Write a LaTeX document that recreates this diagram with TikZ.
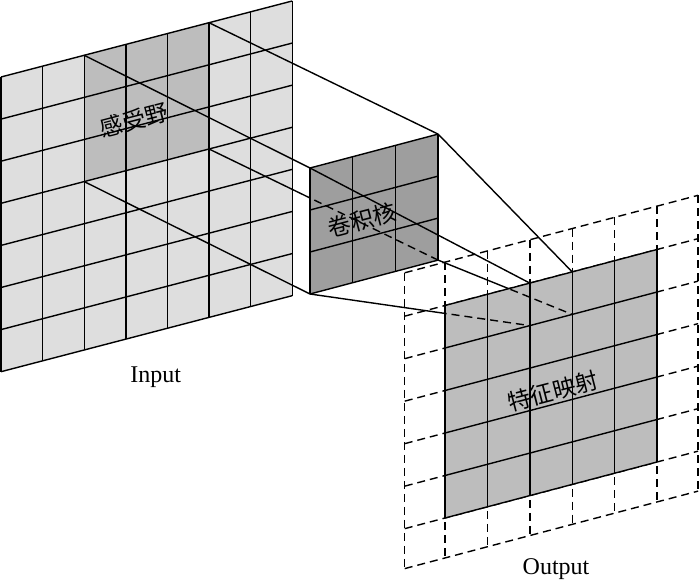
\documentclass[tikz,border=0pt]{standalone}
\usepackage{fontspec}
\setmainfont{Liberation Serif}
\newfontfamily\cjk{Noto Sans CJK SC}
\usepackage{tikz}

\colorlet{inputgray}{black!13}
\colorlet{fieldgray}{black!26}
\colorlet{kernelgray}{black!38}
\colorlet{featgray}{black!26}

\tikzset{
  gridline/.style={line width=1.4pt},
  hidden/.style={line width=1.4pt, dash pattern=on 8pt off 5pt},
  cjklabel/.style={font=\cjk\fontsize{23}{27}\selectfont, rotate=14.6},
  layerlabel/.style={font=\fontsize{24}{28}\selectfont, anchor=base},
}

\begin{document}
\begin{tikzpicture}[x=1pt, y=-1pt, line join=round]
    \useasboundingbox (0,0) rectangle (700,583);
    % Input layer with receptive field
    \begin{scope}[shift={(1,77)}, x={(41.6pt,10.86pt)}, y={(0pt,-42.1pt)}]
        \fill[inputgray] (0,0) -- (7,0) -- (7,7) -- (0,7) -- cycle;
        \fill[fieldgray] (2,0) -- (5,0) -- (5,3) -- (2,3) -- cycle;
        \foreach \i in {0,...,7} {
            \draw[gridline] (\i,0) -- (\i,7);
            \draw[gridline] (0,\i) -- (7,\i);
        }
        \coordinate (field-tl) at (2,0);
        \coordinate (field-tr) at (5,0);
        \coordinate (field-bl) at (2,3);
        \coordinate (field-br) at (5,3);
    \end{scope}
    % Kernel corners
    \begin{scope}[shift={(310,168)}, x={(42.7pt,11.3pt)}, y={(0pt,-42pt)}]
        \coordinate (kern-tl) at (0,0);
        \coordinate (kern-tr) at (3,0);
        \coordinate (kern-bl) at (0,3);
        \coordinate (kern-br) at (3,3);
    \end{scope}
    % Receptive field to kernel
    \draw[gridline] (field-tl) -- (kern-tl);
    \draw[gridline] (field-tr) -- (kern-tr);
    \draw[gridline] (field-bl) -- (kern-bl);
    \draw[gridline] (field-br) -- (kern-br);
    % Kernel
    \begin{scope}[shift={(310,168)}, x={(42.7pt,11.3pt)}, y={(0pt,-42pt)}]
        \fill[kernelgray] (0,0) -- (3,0) -- (3,3) -- (0,3) -- cycle;
        \foreach \i in {0,...,3} {
            \draw[gridline] (\i,0) -- (\i,3);
            \draw[gridline] (0,\i) -- (3,\i);
        }
        \begin{scope}
            \clip (0,0) -- (3,0) -- (3,3) -- (0,3) -- cycle;
            \draw[hidden] (field-br) -- (kern-br);
        \end{scope}
    \end{scope}
    % Output cell corners
    \begin{scope}[shift={(445,305.5)}, x={(42.4pt,11.2pt)}, y={(0pt,-42.5pt)}]
        \coordinate (out-tl) at (2,0);
        \coordinate (out-tr) at (3,0);
        \coordinate (out-bl) at (2,1);
        \coordinate (out-br) at (3,1);
    \end{scope}
    % Kernel to output
    \draw[gridline] (kern-tl) -- (out-tl);
    \draw[gridline] (kern-tr) -- (out-tr);
    \draw[gridline] (kern-bl) -- (out-bl);
    \draw[gridline] (kern-br) -- (out-br);
    % Output with padding
    \begin{scope}[shift={(445,305.5)}, x={(42.4pt,11.2pt)}, y={(0pt,-42.5pt)}]
        \foreach \i in {-0.95,0,1,2,3,4,5,5.97}
            \draw[hidden] (\i,-1.02) -- (\i,5.94);
        \foreach \i in {-1.02,0,1,2,3,4,5,5.94}
            \draw[hidden] (-0.95,\i) -- (5.97,\i);
        \fill[featgray] (0,0) -- (5,0) -- (5,5) -- (0,5) -- cycle;
        \foreach \i in {0,...,5} {
            \draw[gridline] (\i,0) -- (\i,5);
            \draw[gridline] (0,\i) -- (5,\i);
        }
        \begin{scope}
            \clip (0,0) -- (5,0) -- (5,5) -- (0,5) -- cycle;
            \draw[hidden] (kern-bl) -- (out-bl);
            \draw[hidden] (kern-br) -- (out-br);
        \end{scope}
    \end{scope}
    % Labels
    \node[cjklabel] (field-label) at (134,120) {感受野};
    \node[cjklabel] (kern-label) at (362,220) {卷积核};
    \node[cjklabel] (feat-label) at (553,391) {特征映射};
    \node[layerlabel] (input-label) at (155.7,382) {Input};
    \node[layerlabel] (output-label) at (556,574.3) {Output};
\end{tikzpicture}
\end{document}
